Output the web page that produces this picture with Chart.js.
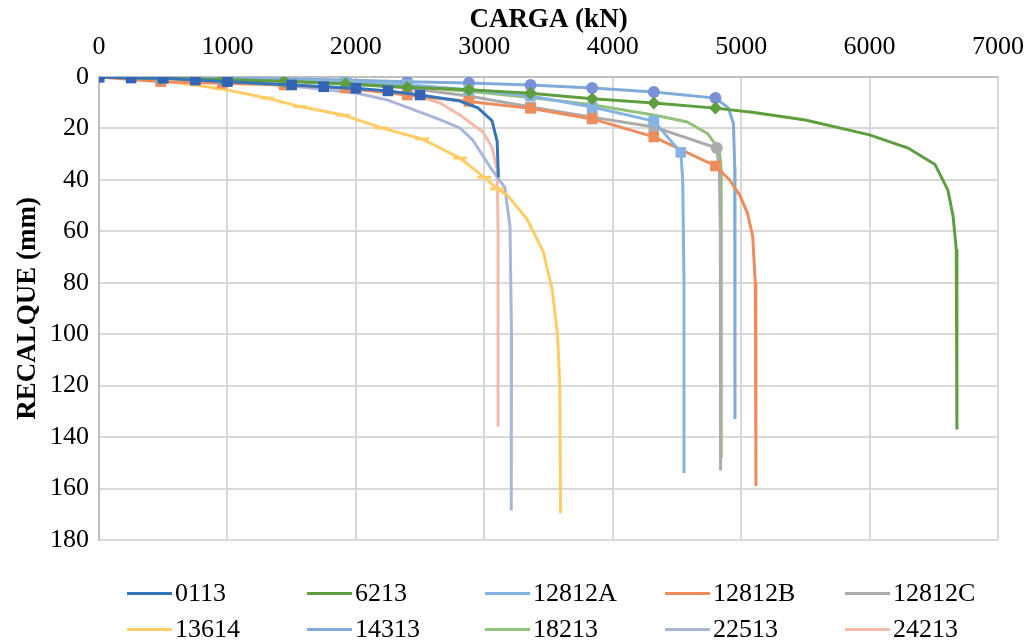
<!DOCTYPE html>
<html><head><meta charset="utf-8">
<script src="https://cdn.jsdelivr.net/npm/chart.js@4"></script>
<style>
html,body{margin:0;padding:0;background:#fff;}
#wrap{position:relative;width:1029px;height:642px;overflow:hidden;}
#c{position:absolute;left:0;top:0;}
#legend{position:absolute;left:0;top:0;width:1029px;height:642px;pointer-events:none;font-family:"Liberation Serif","Times New Roman",serif;font-size:26px;color:#000;}
.item{position:absolute;display:flex;align-items:center;white-space:nowrap;height:32px;}
.sw{display:inline-block;width:45px;height:3px;margin-right:3px;}
</style></head><body>
<div id="wrap"><canvas id="c" width="1029" height="642"></canvas><div id="legend"></div></div>
<script>
// ---- tick values ----
const xTicks = [0, 1000, 2000, 3000, 4000, 5000, 6000, 7000];
const yTicks = [0, 20, 40, 60, 80, 100, 120, 140, 160, 180];

// ---- series names ----
const seriesNames = ['0113', '6213', '12812A', '12812B', '12812C', '13614', '14313', '18213', '22513', '24213'];

// ---- data: load (kN) and settlement (mm) ----
const load0113   = [0, 250, 500, 750, 1000, 1500, 1750, 2000, 2250, 2500, 2800, 2950, 3060, 3100, 3110];
const settle0113 = [0, 0.4, 0.5, 1.2, 1.8, 3.1, 3.8, 4.4, 5.4, 7.0, 9.2, 12, 17, 25, 39];

const load6213   = [0, 480, 960, 1440, 1920, 2400, 2880, 3360, 3840, 4320, 4800, 5100, 5500, 6000, 6300, 6510, 6610, 6650, 6675, 6680, 6680];
const settle6213 = [0, 0.5, 1.0, 1.7, 2.6, 4.0, 5.0, 6.3, 8.5, 10.1, 12.1, 13.8, 16.7, 22.5, 27.6, 34, 44, 54, 67, 87, 137];

const load12812A   = [0, 480, 960, 1440, 1920, 2400, 2880, 3360, 3840, 4320, 4530, 4545, 4555, 4555];
const settle12812A = [0, 0.3, 0.7, 1.2, 1.8, 3.0, 5.0, 7.4, 11.7, 17.1, 29.3, 40, 80, 154];

const load12812B   = [0, 480, 960, 1440, 1920, 2400, 2880, 3360, 3840, 4320, 4800, 4910, 4990, 5050, 5090, 5110, 5115];
const settle12812B = [0, 1.8, 2.4, 3.1, 4.3, 7.0, 9.5, 12.2, 16.3, 23.3, 34.6, 40, 46, 53, 62, 80, 159];

const load12812C   = [0, 480, 960, 1440, 1920, 2400, 2880, 3360, 3840, 4320, 4810, 4830, 4838, 4840];
const settle12812C = [0, 0.5, 1.0, 1.6, 2.6, 4.3, 7.4, 11.7, 15.6, 19.4, 27.6, 36, 60, 153];

const load13614   = [0, 250, 550, 940, 1310, 1565, 1900, 2200, 2515, 2810, 3000, 3100, 3180, 3330, 3460, 3530, 3570, 3588, 3594];
const settle13614 = [0, 0.5, 1.9, 4.5, 8.2, 11.5, 14.8, 19.8, 24.1, 31.5, 39, 43.5, 46, 55, 68, 83, 100, 120, 169.5];

const load14313   = [0, 480, 960, 1440, 1920, 2400, 2880, 3360, 3840, 4320, 4800, 4900, 4940, 4950, 4952, 4952];
const settle14313 = [0, 0.2, 0.3, 0.8, 1.2, 1.8, 2.3, 3.1, 4.3, 5.8, 8.2, 12, 18, 35, 80, 133];

const load18213   = [0, 480, 960, 1440, 1920, 2400, 2880, 3360, 3840, 4320, 4580, 4740, 4830, 4845, 4845, 4845];
const settle18213 = [0, 0.4, 0.9, 1.5, 2.4, 3.6, 5.5, 8.0, 10.8, 14.8, 17.5, 22, 28.4, 36, 60, 148];

const load22513   = [0, 500, 1000, 1500, 2000, 2250, 2650, 2810, 2910, 3045, 3160, 3200, 3212, 3210];
const settle22513 = [0, 0.5, 1.5, 3.5, 6.2, 9.0, 16.5, 19.8, 24.5, 35, 43, 58, 100, 168.5];

const load24213   = [0, 500, 1000, 1500, 2000, 2400, 2650, 2810, 2990, 3060, 3100, 3107, 3107];
const settle24213 = [0, 0.5, 1.5, 3.0, 5.0, 6.2, 10, 14.8, 21.4, 27.2, 36, 60, 136];

// ---- styles ----
const lineColors = ['#3575BA', '#5E9E3E', '#86B3E1', '#EE8C5E', '#ABABAB', '#FFCC66', '#7FAADA', '#93C27B', '#AAB5DB', '#F5BBA9'];
const markerColors = ['#3263B6', '#5E9E3E', '#86B3E1', '#EE8C5E', '#ABABAB', '#FFCC66', '#7A91D7', '#93C27B', '#AAB5DB', '#F5BBA9'];
const markerStyle = ['rect', 'rectRot', 'rect', 'rect', 'rect', 'line', 'circle', 'circle', 'circle', 'circle'];
const markerRadius = [7.5, 6.5, 7.5, 7.5, 7.5, 7, 6, 0, 0, 0];
const markerFrom = [0, 0, 0, 0, 0, 3, 0, 0, 0, 0];
const markerTo = [9, 10, 10, 10, 10, 11, 10, -1, -1, -1];

const loads = [load0113, load6213, load12812A, load12812B, load12812C, load13614, load14313, load18213, load22513, load24213];
const settles = [settle0113, settle6213, settle12812A, settle12812B, settle12812C, settle13614, settle14313, settle18213, settle22513, settle24213];

const FONT = '"Liberation Serif", "Times New Roman", serif';

const datasets = seriesNames.map((name, i) => ({
  label: name,
  data: loads[i].map((x, j) => ({ x: x, y: settles[i][j] })),
  borderColor: lineColors[i],
  backgroundColor: lineColors[i],
  borderWidth: 3,
  tension: 0,
  pointStyle: (ctx) => (i === 4 && ctx.dataIndex === 10) ? 'circle' : markerStyle[i],
  pointRadius: (ctx) => (ctx.dataIndex >= markerFrom[i] && ctx.dataIndex <= markerTo[i]) ? ((i === 4 && ctx.dataIndex === 10) ? 6 : markerRadius[i]) : 0,
  pointHoverRadius: 0,
  pointBackgroundColor: markerColors[i],
  pointBorderColor: markerColors[i],
  pointBorderWidth: i === 5 ? 3 : 0,
  showLine: true,
  fill: false
}));

new Chart(document.getElementById('c'), {
  type: 'scatter',
  data: { datasets },
  options: {
    responsive: false,
    animation: false,
    devicePixelRatio: 1,
    layout: { padding: { left: 0, top: 0, right: 31, bottom: 102 } },
    plugins: { legend: { display: false }, tooltip: { enabled: false } },
    scales: {
      x: {
        type: 'linear',
        position: 'top',
        min: xTicks[0],
        max: xTicks[xTicks.length - 1],
        afterBuildTicks: (s) => { s.ticks = xTicks.map(v => ({ value: v })); },
        afterFit: (s) => { s.height = 77; s.paddingLeft = 0; s.paddingRight = 0; },
        grid: { color: '#D9D9D9', lineWidth: 2, drawTicks: false },
        border: { color: '#BFBFBF', width: 2 },
        ticks: { color: '#000', font: { family: FONT, size: 26 }, padding: 14, maxRotation: 0, callback: (v) => String(v) },
        title: { display: true, text: 'CARGA (kN)', color: '#000', font: { family: FONT, size: 27, weight: 'bold' }, padding: { top: 4, bottom: 0 } }
      },
      y: {
        type: 'linear',
        reverse: true,
        min: yTicks[0],
        max: yTicks[yTicks.length - 1],
        afterBuildTicks: (s) => { s.ticks = yTicks.map(v => ({ value: v })); },
        afterFit: (s) => { s.width = 99; s.paddingTop = 0; s.paddingBottom = 0; },
        grid: { color: '#D9D9D9', lineWidth: 2, drawTicks: false },
        border: { color: '#BFBFBF', width: 2 },
        ticks: { color: '#000', font: { family: FONT, size: 26 }, padding: 10, callback: (v) => String(v) },
        title: { display: true, text: 'RECALQUE (mm)', color: '#000', font: { family: FONT, size: 27, weight: 'bold' }, padding: { top: 12, bottom: 0 } }
      }
    }
  }
});

// ---- HTML legend (grid like the original) ----
const legendCols = [127, 307, 485, 665, 845];
const legendRows = [593, 629];
const leg = document.getElementById('legend');
seriesNames.forEach((name, i) => {
  const d = document.createElement('div');
  d.className = 'item';
  d.style.left = legendCols[i % 5] + 'px';
  d.style.top = (legendRows[Math.floor(i / 5)] - 16) + 'px';
  const sw = document.createElement('span');
  sw.className = 'sw';
  sw.style.background = lineColors[i];
  const t = document.createElement('span');
  t.textContent = name;
  d.appendChild(sw); d.appendChild(t);
  leg.appendChild(d);
});
</script>
</body></html>
